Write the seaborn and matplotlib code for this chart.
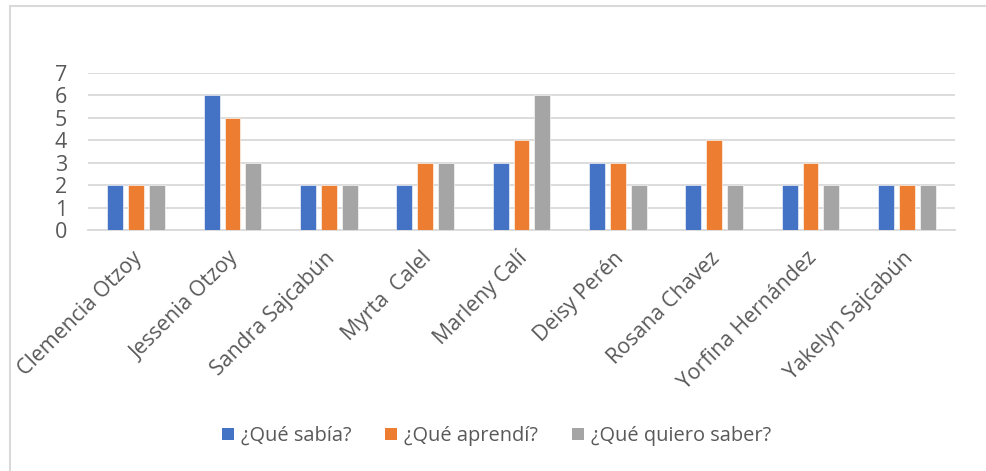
import matplotlib
matplotlib.use("Agg")
import matplotlib.pyplot as plt
from matplotlib.lines import Line2D
from matplotlib.patches import Patch
import matplotlib.transforms as mtransforms
import seaborn as sns
import pandas as pd

estudiantes = ["Clemencia Otzoy", "Jessenia Otzoy", "Sandra Sajcabún", "Myrta  Calel",
               "Marleny Calí", "Deisy Perén", "Rosana Chavez", "Yorfina Hernández",
               "Yakelyn Sajcabún"]
series = ["¿Qué sabía?", "¿Qué aprendí?", "¿Qué quiero saber?"]
que_sabia = [2, 6, 2, 2, 3, 3, 2, 2, 2]
que_aprendi = [2, 5, 2, 3, 4, 3, 4, 3, 2]
que_quiero_saber = [2, 3, 2, 3, 6, 2, 2, 2, 2]
colores = ["#4472C4", "#ED7D31", "#A5A5A5"]

df = pd.DataFrame({
    "estudiante": estudiantes * 3,
    "serie": [series[0]] * 9 + [series[1]] * 9 + [series[2]] * 9,
    "valor": que_sabia + que_aprendi + que_quiero_saber,
})

sns.set_theme(style="white")
plt.rcParams["font.family"] = ["Open Sans", "DejaVu Sans"]
text_color = "#595959"
grid_color = "#D9D9D9"

fig = plt.figure(figsize=(9.87, 4.71), dpi=100)
ax = fig.add_axes([88 / 987, 1 - 230 / 471, (955 - 88) / 987, (230 - 72.7) / 471])

sns.barplot(data=df, x="estudiante", y="valor", hue="serie", palette=colores,
            order=estudiantes, hue_order=series, width=0.65, gap=0.24,
            saturation=1, edgecolor="white", linewidth=0.4, legend=False,
            ax=ax, zorder=3)

ax.set_ylim(0, 7)
ax.set_yticks(range(0, 8))
ax.set_xlim(-0.5, len(estudiantes) - 0.5)
ax.yaxis.grid(True, color=grid_color, linewidth=1.3, zorder=0)
ax.set_axisbelow(True)
for s in ["top", "right", "left"]:
    ax.spines[s].set_visible(False)
ax.spines["bottom"].set_color(grid_color)
ax.spines["bottom"].set_linewidth(1.3)
ax.set_xlabel("")
ax.set_ylabel("")
ax.tick_params(axis="y", length=0, pad=15, labelsize=15.5, labelcolor=text_color)
ax.tick_params(axis="x", length=0, pad=18, labelsize=15.3, labelcolor=text_color)
shift = mtransforms.ScaledTranslation(3 / 100, 0, fig.dpi_scale_trans)
for lbl in ax.get_xticklabels():
    lbl.set_rotation(45)
    lbl.set_ha("right")
    lbl.set_va("center")
    lbl.set_rotation_mode("anchor")
    lbl.set_transform(lbl.get_transform() + shift)

handles = [Patch(facecolor=c, edgecolor="none") for c in colores]
fig.legend(handles, series, loc="center", bbox_to_anchor=(0.503, 1 - 436 / 471),
           ncol=3, frameon=False, fontsize=14.4, labelcolor=text_color,
           handlelength=0.6, handleheight=0.6, handletextpad=0.35, columnspacing=1.7)

# outer chart-area frame (left and top edges)
x0, y0 = 10.5 / 987, 1 - 5.5 / 471
fig.add_artist(Line2D([x0, x0], [0, y0], transform=fig.transFigure,
                      color="#D9D9D9", linewidth=1.5))
fig.add_artist(Line2D([x0, 1], [y0, y0], transform=fig.transFigure,
                      color="#D9D9D9", linewidth=1.5))

fig.savefig("out.png", dpi=100, facecolor="white")
